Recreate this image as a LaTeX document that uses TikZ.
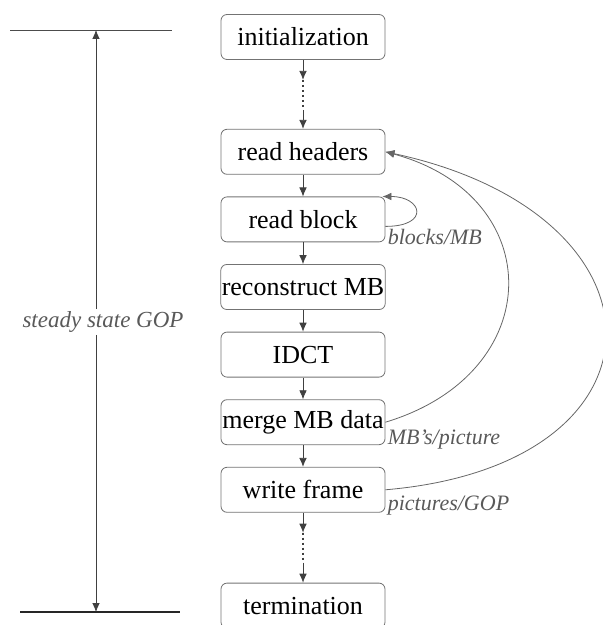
\documentclass[tikz,border=0pt]{standalone}
\usepackage{fontspec}
\setmainfont{Liberation Serif}
\usetikzlibrary{arrows.meta}
\usetikzlibrary{positioning}

\begin{document}
\begin{tikzpicture}[x=0.5pt,y=-0.5pt,
  node distance=10.9pt,
  stage/.style={draw=black!55, rounded corners=3pt, minimum width=82pt,
    minimum height=22.5pt, inner xsep=0.5pt, font=\fontsize{13}{15}\selectfont},
  flow/.style={-{Latex[length=4.5pt,width=3.8pt]}, draw=black!75},
  back/.style={-{Latex[length=4.5pt,width=3.8pt]}, draw=black!60},
  dots/.style={draw=black!75, line width=0.6pt, dash pattern=on 1pt off 1.5pt},
  note/.style={font=\fontsize{11}{13}\selectfont\itshape, text=black!65, inner sep=1pt}]
\useasboundingbox (0,0) rectangle (603,625);
% decoder stages
\node[stage] (init) at (303,37) {initialization};
\node[stage, below=34.5pt of init] (rhead) {read headers};
\node[stage, below=of rhead] (rblock) {read block};
\node[stage, below=of rblock] (recon) {reconstruct MB};
\node[stage, below=of recon] (idct) {IDCT};
\node[stage, below=of idct] (merge) {merge MB data};
\node[stage, below=of merge] (wframe) {write frame};
\node[stage, below=35pt of wframe] (term) {termination};
% dotted links
\draw[flow] (init.south) -- ++(0,20) coordinate (i1);
\draw[dots] (i1) -- ++(0,30) coordinate (i2);
\draw[flow] (i2) -- (rhead.north);
\draw[flow] (wframe.south) -- ++(0,20) coordinate (w1);
\draw[dots] (w1) -- ++(0,30) coordinate (w2);
\draw[flow] (w2) -- (term.north);
% steps
\foreach \a/\b in {rhead/rblock, rblock/recon, recon/idct, idct/merge, merge/wframe}
  \draw[flow] (\a) -- (\b);
% loops
\draw[back] ([yshift=-3.5pt]rblock.east) .. controls +(45,0) and +(40,0) .. ([xshift=-1.5pt]rblock.north east);
\draw[back] (merge.east) .. controls +(163,-49) and +(163,44) .. (rhead.east);
\draw[back] (wframe.east) .. controls +(293,-25) and +(293,63) .. (rhead.east);
\node[note, anchor=west] (nblock) at ([yshift=2.5pt]rblock.south east) {blocks/MB};
\node[note, anchor=west] (nmb) at ([yshift=3pt]merge.south east) {MB's/picture};
\node[note, anchor=west] (npic) at ([yshift=3.5pt]wframe.south east) {pictures/GOP};
% steady state span
\coordinate (gtop) at (96,30);
\coordinate (gbot) at (96,612);
\draw[black!70] (10,30) -- (172,30);
\draw[black!85, line width=0.8pt] (20,612) -- (180,612);
\node[note, font=\fontsize{11.5}{13}\selectfont\itshape] (gop) at (103,322) {steady state GOP};
\draw[flow] (gop.north -| gtop) -- (gtop);
\draw[flow] (gop.south -| gbot) -- (gbot);
\end{tikzpicture}
\end{document}
